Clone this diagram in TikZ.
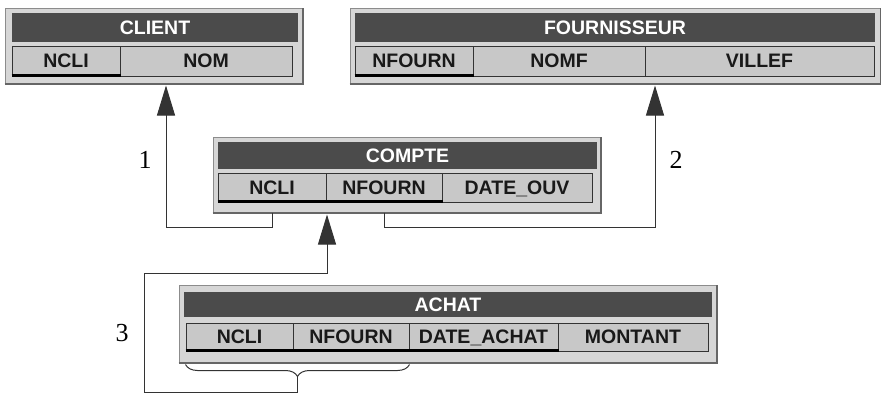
\documentclass[tikz,border=0pt]{standalone}
\usepackage{fontspec}
\newfontfamily\tabfont{Liberation Sans}
\newfontfamily\numfont{Liberation Serif}
\usetikzlibrary{calc,arrows.meta,decorations.pathreplacing}
\definecolor{framegray}{HTML}{D6D6D6}
\definecolor{bargray}{HTML}{4B4B4B}
\definecolor{cellgray}{HTML}{C8C8C8}
\tikzset{
  frame/.style={draw=black!45, fill=framegray, line width=1pt, inner sep=0pt},
  titlebar/.style={fill=bargray, text=white, inner sep=0pt, minimum height=28pt,
    text height=13.5pt, text depth=0pt, font=\tabfont\bfseries\fontsize{19.5}{21}\selectfont},
  cell/.style={draw=black!80, fill=cellgray, line width=1pt, text=black!90, inner sep=0pt,
    minimum height=29pt, text height=13.5pt, text depth=0pt,
    font=\tabfont\bfseries\fontsize{19.5}{21}\selectfont},
  keybar/.style={line width=3pt, black},
  shadowline/.style={line width=2pt, black!60},
  link/.style={draw=black!80, line width=1pt},
  arrowlink/.style={link, -{Triangle[length=30pt,width=18pt]}, shorten >=2pt},
  num/.style={font=\numfont\fontsize{26}{26}\selectfont}
}

\begin{document}
\begin{tikzpicture}[x=1pt,y=-1pt]
\useasboundingbox (0,0) rectangle (881,394);

% CLIENT
\node[frame, minimum width=297pt, minimum height=75pt] (client) at (153.5,45.5) {};
\draw[shadowline] (client.south west) -- (client.south east) -- (client.north east);
\node[titlebar, minimum width=286pt, minimum height=29pt] (clientT) at (155,27.5) {CLIENT};
\node[cell, minimum width=108pt, minimum height=30pt] (clientNcli) at (66,61) {NCLI};
\node[cell, minimum width=172pt, minimum height=30pt] (clientNom) at (206,61) {NOM};
\draw[keybar] ($(clientNcli.south west)+(0,-1.5)$) -- ($(clientNcli.south east)+(0,-1.5)$);

% FOURNISSEUR
\node[frame, minimum width=530pt, minimum height=75pt] (fourn) at (615,45.5) {};
\draw[shadowline] (fourn.south west) -- (fourn.south east) -- (fourn.north east);
\node[titlebar, minimum width=520pt, minimum height=29pt] (fournT) at (615,27.5) {FOURNISSEUR};
\node[cell, minimum width=118pt, minimum height=30pt] (fournNf) at (414,61) {NFOURN};
\node[cell, minimum width=172pt, minimum height=30pt] (fournNomf) at (559,61) {NOMF};
\node[cell, minimum width=229pt, minimum height=30pt] (fournVille) at (759.5,61) {VILLEF};
\draw[keybar] ($(fournNf.south west)+(0,-1.5)$) -- ($(fournNf.south east)+(0,-1.5)$);

% COMPTE
\node[frame, minimum width=387pt, minimum height=75pt] (compte) at (406.5,174.5) {};
\draw[shadowline] (compte.south west) -- (compte.south east) -- (compte.north east);
\node[titlebar, minimum width=379pt, minimum height=27pt] (compteT) at (407.5,155.5) {COMPTE};
\node[cell, minimum width=108pt] (compteNcli) at (272,187.5) {NCLI};
\node[cell, minimum width=116pt] (compteNf) at (384,187.5) {NFOURN};
\node[cell, minimum width=150pt] (compteDate) at (517,187.5) {DATE\_OUV};
\draw[keybar] ($(compteNcli.south west)+(0,-1.5)$) -- ($(compteNf.south east)+(0,-1.5)$);

% ACHAT
\node[frame, minimum width=537pt, minimum height=77pt] (achat) at (447.5,323.5) {};
\draw[shadowline] (achat.south west) -- (achat.south east) -- (achat.north east);
\node[titlebar, minimum width=528pt, minimum height=25pt] (achatT) at (448,304.5) {ACHAT};
\node[cell, minimum width=107pt, minimum height=28pt] (achatNcli) at (239.5,337) {NCLI};
\node[cell, minimum width=116pt, minimum height=28pt] (achatNf) at (351,337) {NFOURN};
\node[cell, minimum width=149pt, minimum height=28pt] (achatDate) at (483.5,337) {DATE\_ACHAT};
\node[cell, minimum width=150pt, minimum height=28pt] (achatMont) at (633,337) {MONTANT};
\draw[keybar] ($(achatNcli.south west)+(0,-1.5)$) -- ($(achatDate.south east)+(0,-1.5)$);

% links
\coordinate (k1) at (166,227);
\coordinate (k2) at (655,227);
\coordinate (k3) at (144,392);
\coordinate (k4) at (327,273);

\draw[arrowlink] (compteNcli |- compte.south) |- (k1) -- (k1 |- client.south);
\draw[arrowlink] (compteNf |- compte.south) |- (k2) -- (k2 |- fourn.south);

\draw[link, decorate, decoration={brace, amplitude=12pt}]
  ($(achatNf.east |- achat.south)+(0,2)$) -- ($(achatNcli.west |- achat.south)+(0,2)$);
\coordinate (tip) at ($(achatNcli.west |- achat.south)!.5!(achatNf.east |- achat.south)+(0,14)$);
\draw[arrowlink] (tip) |- (k3) |- (k4) -- (k4 |- compte.south);

\node[num] (n1) at (145,160) {1};
\node[num] (n2) at (676,160) {2};
\node[num] (n3) at (122,333) {3};

\end{tikzpicture}
\end{document}
